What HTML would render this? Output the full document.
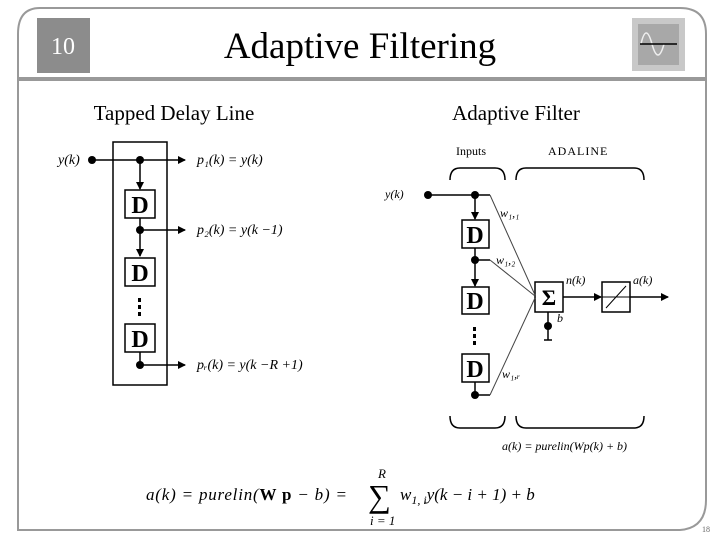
<!DOCTYPE html>
<html><head><style>
body{margin:0;background:#fff}
svg{display:block}
text{font-family:"Liberation Serif",serif}
</style></head><body>
<svg width="720" height="540" viewBox="0 0 720 540" xmlns="http://www.w3.org/2000/svg">
<path d="M40 8 H680 Q706 8 706 34 V500 Q706 528 680 530 H18 V34 Q18 8 40 8 Z" fill="none" stroke="#999" stroke-width="2"/>
<rect x="18" y="77" width="688" height="4" fill="#999"/>
<rect x="37" y="18" width="53" height="55" fill="#8c8c8c"/>
<text x="63" y="54" font-size="24" fill="#fff" text-anchor="middle">10</text>
<text x="360" y="58" font-size="37" text-anchor="middle">Adaptive Filtering</text>
<rect x="632" y="18" width="53" height="53" fill="#c8c8c8"/>
<rect x="638" y="24" width="41" height="41" fill="#a8a8a8"/>
<path d="M641 44 Q646 22 652 44 T664 44" fill="none" stroke="#eee" stroke-width="1.5"/>
<line x1="640" y1="44" x2="677" y2="44" stroke="#000" stroke-width="1.5"/>
<text x="174" y="120" font-size="21" text-anchor="middle">Tapped Delay Line</text>
<text x="516" y="120" font-size="21" text-anchor="middle">Adaptive Filter</text>
<defs><marker id="a" markerWidth="8" markerHeight="8" refX="7" refY="4" orient="auto" markerUnits="userSpaceOnUse"><path d="M0 0 L8 4 L0 8Z"/></marker></defs>
<g stroke="#000" stroke-width="1.5" fill="none">
<rect x="113" y="142" width="54" height="243"/>
<line x1="92" y1="160" x2="185" y2="160" marker-end="url(#a)"/>
<line x1="140" y1="160" x2="140" y2="189" marker-end="url(#a)"/>
<rect x="125" y="190" width="30" height="28"/>
<line x1="140" y1="218" x2="140" y2="256" marker-end="url(#a)"/>
<line x1="140" y1="230" x2="185" y2="230" marker-end="url(#a)"/>
<rect x="125" y="258" width="30" height="28"/>
<rect x="125" y="324" width="30" height="28"/>
<line x1="140" y1="352" x2="140" y2="365"/>
<line x1="140" y1="365" x2="185" y2="365" marker-end="url(#a)"/>
</g>
<g fill="#000">
<circle cx="92" cy="160" r="4"/><circle cx="140" cy="160" r="4"/><circle cx="140" cy="230" r="4"/><circle cx="140" cy="365" r="4"/>
<rect x="138" y="298" width="3" height="4"/><rect x="138" y="305" width="3" height="4"/><rect x="138" y="312" width="3" height="4"/>
</g>
<g font-size="24" font-weight="bold" text-anchor="middle"><text x="140" y="213">D</text><text x="140" y="281">D</text><text x="140" y="347">D</text></g>
<g font-size="14" font-style="italic">
<text x="58" y="164">y(k)</text>
<text x="197" y="164">p₁(k) = y(k)</text>
<text x="197" y="234">p₂(k) = y(k −1)</text>
<text x="197" y="369">pᵣ(k) = y(k −R +1)</text>
</g>
<g font-size="12"><text x="456" y="155" font-family="Liberation Sans,sans-serif">Inputs</text><text x="548" y="155" font-family="Liberation Sans,sans-serif" letter-spacing="1">ADALINE</text></g>
<g stroke="#000" stroke-width="1.5" fill="none">
<path d="M450 180 Q450 168 460 168 H495 Q505 168 505 180"/>
<path d="M516 180 Q516 168 526 168 H634 Q644 168 644 180"/>
<path d="M450 416 Q450 428 460 428 H495 Q505 428 505 416"/>
<path d="M516 416 Q516 428 526 428 H634 Q644 428 644 416"/>
<line x1="428" y1="195" x2="490" y2="195"/>
<line x1="475" y1="195" x2="475" y2="219" marker-end="url(#a)"/>
<rect x="462" y="220" width="27" height="28"/>
<line x1="475" y1="248" x2="475" y2="286" marker-end="url(#a)"/>
<line x1="475" y1="260" x2="490" y2="260"/>
<rect x="462" y="287" width="27" height="27"/>
<rect x="462" y="354" width="27" height="28"/>
<line x1="475" y1="382" x2="475" y2="395"/>
<line x1="475" y1="395" x2="490" y2="395"/>
<rect x="535" y="282" width="28" height="30"/>
<line x1="548" y1="312" x2="548" y2="340"/>
<line x1="544" y1="340" x2="552" y2="340"/>
<line x1="563" y1="297" x2="601" y2="297" marker-end="url(#a)"/>
<rect x="602" y="282" width="28" height="30"/>
<line x1="602" y1="297" x2="630" y2="297" stroke-width="1"/>
<line x1="606" y1="308" x2="626" y2="286" stroke-width="1"/>
<line x1="630" y1="297" x2="668" y2="297" marker-end="url(#a)"/>
</g>
<g stroke="#444" stroke-width="1" fill="none">
<line x1="490" y1="195" x2="535" y2="295"/>
<line x1="490" y1="260" x2="535" y2="296"/>
<line x1="490" y1="395" x2="535" y2="298"/>
</g>
<g fill="#000">
<circle cx="428" cy="195" r="4"/><circle cx="475" cy="195" r="4"/><circle cx="475" cy="260" r="4"/><circle cx="475" cy="395" r="4"/><circle cx="548" cy="326" r="4"/>
<rect x="473" y="327" width="3" height="4"/><rect x="473" y="334" width="3" height="4"/><rect x="473" y="341" width="3" height="4"/>
</g>
<g font-size="24" font-weight="bold" text-anchor="middle"><text x="475" y="243">D</text><text x="475" y="309">D</text><text x="475" y="377">D</text><text x="549" y="305" font-size="22">Σ</text></g>
<g font-size="12" font-style="italic">
<text x="385" y="198">y(k)</text>
<text x="500" y="217">w₁,₁</text>
<text x="496" y="264">w₁,₂</text>
<text x="502" y="378">w₁,ᵣ</text>
<text x="566" y="284">n(k)</text>
<text x="633" y="284">a(k)</text>
<text x="557" y="322">b</text>
<text x="502" y="450">a(k) = purelin(Wp(k) + b)</text>
</g>
<g font-size="17" font-style="italic">
<text x="146" y="500" letter-spacing="0.8">a(k)  =  purelin(<tspan font-weight="bold" font-style="normal">W p</tspan> − b)  =</text>
<text x="368" y="507" font-size="32" font-style="normal">∑</text>
<text x="378" y="478" font-size="13">R</text>
<text x="370" y="525" font-size="13">i = 1</text>
<text x="400" y="500">w<tspan font-size="12" dy="4">1, i</tspan><tspan dy="-4">y(k − i + 1) + b</tspan></text>
</g>
<text x="702" y="532" font-size="8" fill="#666">18</text>
</svg>
</body></html>
